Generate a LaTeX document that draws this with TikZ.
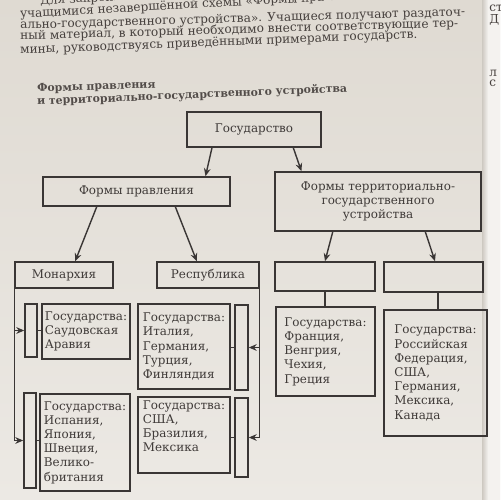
\documentclass[tikz,border=0pt]{standalone}
\usepackage{fontspec}
\setmainfont{DejaVu Serif}
\usetikzlibrary{arrows.meta,calc}
\definecolor{bgtop}{HTML}{DFDAD2}
\definecolor{bgbot}{HTML}{ECE9E4}
\definecolor{lc}{HTML}{3A3635}
\definecolor{tc}{HTML}{3F3A38}
\definecolor{pc}{HTML}{46403D}
\definecolor{hc}{HTML}{524C49}
\begin{document}
\begin{tikzpicture}[x=0.02cm,y=-0.02cm,
  bx/.style={draw=lc,line width=0.9pt,inner sep=1pt,align=left,font=\fontsize{6.8}{8.1}\selectfont,text=tc},
  arr/.style={draw=lc,line width=0.8pt,-{Stealth[length=4.5pt,width=3.8pt]}},
  ln/.style={draw=lc,line width=0.8pt},
  para/.style={anchor=base west,inner sep=0,font=\fontsize{6.9}{8}\selectfont,text=pc},
  head/.style={anchor=base west,inner sep=0,font=\bfseries\fontsize{6.2}{7}\selectfont,text=hc}]
\useasboundingbox (0,0) rectangle (500,500);
\clip (0,0) rectangle (500,500);
\shade[top color=bgtop,bottom color=bgbot] (0,0) rectangle (500,500);
% neighbouring page
\fill[bgbot!60!white] (487,0) rectangle (500,500);
\shade[left color=bgtop!80!black!40!bgtop,right color=bgbot!60!white] (482,0) rectangle (488,500);
\node[para,rotate=1] (pg1) at (489,12) {ст};
\node[para,rotate=1] (pg2) at (489,24) {Д};
\node[para,rotate=1] (pg3) at (489,77) {л};
\node[para,rotate=1] (pg4) at (489,87) {с};
% paragraph
\node[para,rotate=3.2] (p1) at (40,5) {Для закрепления};
\node[para,rotate=3.2] (p2) at (20,18) {учащимися незавершённой схемы «Формы правления и территори-};
\node[para,rotate=1.7] (p3) at (20,29) {ально-государственного устройства». Учащиеся получают раздаточ-};
\node[para,rotate=1.7] (p4) at (20,40) {ный материал, в который необходимо внести соответствующие тер-};
\node[para,rotate=2.3] (p5) at (20,54) {мины, руководствуясь приведёнными примерами государств.};
% heading
\node[head,rotate=2] (h1) at (37,92) {Формы правления};
\node[head,rotate=2.4] (h2) at (37,105) {и территориально-государственного устройства};
% boxes
\node[bx,minimum width=2.68cm,minimum height=0.70cm] (gos) at (254,129.5) {Государство};
\node[bx,minimum width=3.74cm,minimum height=0.58cm] (fp) at (136.5,191.5) {Формы правления};
\node[bx,align=center,minimum width=4.12cm,minimum height=1.18cm] (ftgu) at (378,201.5) {Формы территориально-\\государственного\\устройства};
\node[bx,minimum width=1.96cm,minimum height=0.52cm] (mon) at (64,275) {Монархия};
\node[bx,minimum width=2.04cm,minimum height=0.52cm] (rep) at (208,275) {Республика};
\node[bx,minimum width=2.00cm,minimum height=0.58cm] (e1) at (325,276.5) {};
\node[bx,minimum width=1.98cm,minimum height=0.60cm] (e2) at (433.5,277) {};
\node[bx,minimum width=0.24cm,minimum height=1.06cm] (sm1) at (31,330.5) {};
\node[bx,minimum width=1.76cm,minimum height=1.10cm] (sa) at (86,331.5) {Государства:\\Саудовская\\Аравия};
\node[bx,minimum width=0.24cm,minimum height=1.90cm] (sm2) at (30,440.5) {};
\node[bx,minimum width=1.80cm,minimum height=1.94cm] (isp) at (85,442.5) {Государства:\\Испания,\\Япония,\\Швеция,\\Велико-\\британия};
\node[bx,minimum width=1.84cm,minimum height=1.70cm] (it) at (184,346.5) {Государства:\\Италия,\\Германия,\\Турция,\\Финляндия};
\node[bx,minimum width=0.26cm,minimum height=1.70cm] (smr1) at (241.5,347.5) {};
\node[bx,minimum width=1.84cm,minimum height=1.52cm,text depth=10pt] (usa) at (184,435) {Государства:\\США,\\Бразилия,\\Мексика};
\node[bx,minimum width=0.26cm,minimum height=1.58cm] (smr2) at (241.5,437.5) {};
\node[bx,minimum width=1.98cm,minimum height=1.78cm] (fr) at (325.5,351.5) {Государства:\\Франция,\\Венгрия,\\Чехия,\\Греция};
\node[bx,minimum width=2.06cm,minimum height=2.52cm] (ru) at (435.5,373) {Государства:\\Российская\\Федерация,\\США,\\Германия,\\Мексика,\\Канада};
% connectors
\draw[arr] ($(gos.south west)!0.19!(gos.south east)$) -- ($(fp.north west)!0.866!(fp.north east)$);
\draw[arr] ($(gos.south west)!0.79!(gos.south east)$) -- ($(ftgu.north west)!0.131!(ftgu.north east)$);
\draw[arr] ($(fp.south west)!0.289!(fp.south east)$) -- ($(mon.north west)!0.612!(mon.north east)$);
\draw[arr] ($(fp.south west)!0.706!(fp.south east)$) -- ($(rep.north west)!0.392!(rep.north east)$);
\draw[arr] ($(ftgu.south west)!0.282!(ftgu.south east)$) -- (e1.north);
\draw[arr] ($(ftgu.south west)!0.728!(ftgu.south east)$) -- ($(e2.north west)!0.515!(e2.north east)$);
\draw[ln] (e1.south) -- (e1.south |- fr.north);
\draw[ln] ($(e2.south west)!0.545!(e2.south east)$) coordinate (e2b) -- (e2b |- ru.north);
\draw[arr] (mon.south west) |- (sm2.west);
\draw[arr] (mon.south west |- sm1.west) -- (sm1.west);
\draw[ln] (sm1.east) -- (sm1.east -| sa.west);
\draw[ln] (sm2.east) -- (sm2.east -| isp.west);
\draw[arr] (rep.south east) |- (smr2.east);
\draw[arr] (rep.south east |- smr1.east) -- (smr1.east);
\draw[ln] (smr1.west) -- (smr1.west -| it.east);
\draw[ln] (smr2.west) -- (smr2.west -| usa.east);
\end{tikzpicture}
\end{document}
